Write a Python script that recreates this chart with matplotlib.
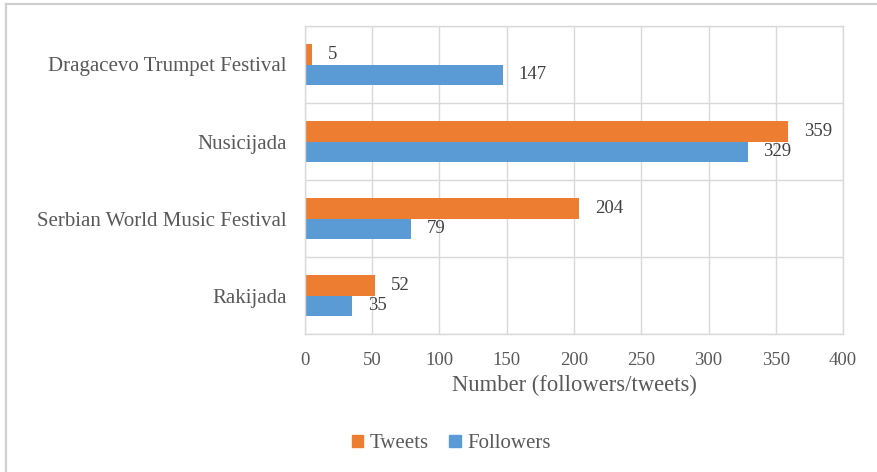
import matplotlib
matplotlib.use("Agg")
import matplotlib.pyplot as plt
from matplotlib.lines import Line2D
from matplotlib.patches import Patch
import numpy as np

categories = ["Dragacevo Trumpet Festival", "Nusicijada", "Serbian World Music Festival", "Rakijada"]
tweets = [5, 359, 204, 52]
followers = [147, 329, 79, 35]
xticks = [0, 50, 100, 150, 200, 250, 300, 350, 400]

ORANGE = "#ED7D31"
BLUE = "#5B9BD5"
GRID = "#D9D9D9"
TXT = "#595959"
LBL = "#404040"

plt.rcParams['font.family'] = ['Liberation Serif', 'DejaVu Serif']

W, H = 878, 472
fig = plt.figure(figsize=(W/100, H/100), dpi=100)
ax = fig.add_axes([305/W, 1-334/H, (843-305)/W, (334-26)/H])

y = np.arange(len(categories))
h = 0.26
b1 = ax.barh(y - h/2, tweets, height=h, color=ORANGE, label="Tweets")
b2 = ax.barh(y + h/2, followers, height=h, color=BLUE, label="Followers")

for bars, vals in ((b1, tweets), (b2, followers)):
    for r, v in zip(bars, vals):
        ax.annotate(str(v), (r.get_width(), r.get_y() + r.get_height()/2),
                    xytext=(11.5, 0), textcoords="offset points",
                    ha="left", va="center", fontsize=13.5, color=LBL)

ax.set_xlim(0, 400)
ax.set_ylim(len(categories) - 0.5, -0.5)
ax.set_xticks(xticks)
ax.set_xticklabels([str(t) for t in xticks])
ax.set_yticks(y)
ax.set_yticklabels(categories, fontsize=15)
ax.set_yticks(np.arange(-0.5, len(categories)), minor=True)
ax.tick_params(axis='both', which='both', length=0, colors=TXT)
ax.tick_params(axis='x', labelsize=13.5, pad=13)
ax.tick_params(axis='y', pad=13)
ax.grid(True, axis='x', which='major', color=GRID, lw=1)
ax.grid(True, axis='y', which='minor', color=GRID, lw=1)
ax.set_axisbelow(True)
for s in ax.spines.values():
    s.set_color(GRID)
    s.set_linewidth(1)

ax.set_xlabel("Number (followers/tweets)", fontsize=16.3, color=TXT, labelpad=4)

handles = [Patch(color=ORANGE), Patch(color=BLUE)]
fig.legend(handles, ["Tweets", "Followers"], loc="center", bbox_to_anchor=(451/W, 1-444/H),
           ncol=2, frameon=False, fontsize=15, labelcolor=TXT,
           handlelength=0.55, handleheight=0.55, handletextpad=0.3, columnspacing=1.0)

# outer frame (clipped by the image edges)
fig.add_artist(Line2D([6/W, 6/W], [0, 1-4/H], transform=fig.transFigure, color="#D0D0D0", lw=1.6))
fig.add_artist(Line2D([6/W, 1], [1-4/H, 1-4/H], transform=fig.transFigure, color="#D0D0D0", lw=1.6))

fig.savefig("out.png", dpi=100)
